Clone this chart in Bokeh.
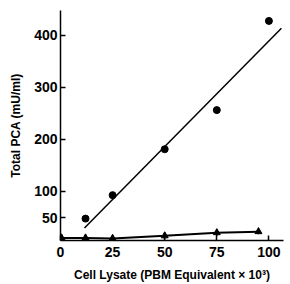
from bokeh.plotting import figure
from bokeh.models import Range1d, FixedTicker, ColumnDataSource, Whisker
from bokeh.embed import file_html
from bokeh.resources import INLINE

# Lysate series (circles)
lys_x = [12, 25, 50, 75, 100]
lys_y = [48, 93, 181, 256, 427]
# Regression line through lysate series
fit_x = [11.5, 106]
fit_y = [30, 413]
# Control series (triangles with error bars)
ctl_x = [0.5, 12, 25, 50, 75, 95]
ctl_y = [11, 11, 10, 15, 21, 23]
ctl_err = [6, 6, 7, 7, 7, 5]

x_ticks = [0, 25, 50, 75, 100]
y_ticks = [50, 100, 200, 300, 400]

FONT = "Liberation Sans"

p = figure(width=286, height=284, output_backend="svg", toolbar_location=None,
           x_range=Range1d(0, 107), y_range=Range1d(6, 447),
           min_border_left=60, min_border_right=3, min_border_top=10, min_border_bottom=44)
p.outline_line_color = None
p.grid.visible = False
p.background_fill_color = "white"

p.line(fit_x, fit_y, line_color="black", line_width=1.5)
p.scatter(lys_x, lys_y, size=7, marker="circle", fill_color="black", line_color="black")

src = ColumnDataSource(dict(x=ctl_x, y=ctl_y,
                            lo=[a - b for a, b in zip(ctl_y, ctl_err)],
                            hi=[a + b for a, b in zip(ctl_y, ctl_err)]))
p.line("x", "y", source=src, line_color="black", line_width=2)
p.add_layout(Whisker(source=src, base="x", lower="lo", upper="hi",
                     line_color="black", line_width=1.5,
                     upper_head=None, lower_head=None))
p.scatter("x", "y", source=src, size=7, marker="triangle", fill_color="black", line_color="black")

for ax in (p.xaxis[0], p.yaxis[0]):
    ax.axis_line_color = "black"
    ax.axis_line_width = 1.5
    ax.major_tick_line_color = "black"
    ax.major_tick_line_width = 1.5
    ax.minor_tick_line_color = None
    ax.major_label_text_font = FONT
    ax.major_label_text_font_style = "bold"
    ax.major_label_text_font_size = "14px"
    ax.major_label_text_color = "black"
    ax.axis_label_text_font = FONT
    ax.axis_label_text_font_style = "bold"
    ax.axis_label_text_font_size = "12px"
    ax.axis_label_text_color = "black"
    ax.major_tick_in = 5
    ax.major_tick_out = 0

p.xaxis.ticker = FixedTicker(ticks=x_ticks)
p.yaxis.ticker = FixedTicker(ticks=y_ticks)
p.xaxis.axis_label = "Cell Lysate (PBM Equivalent \u00d7 10\u00b3)"
p.yaxis.axis_label = "Total PCA (mU/ml)"
p.xaxis.major_label_standoff = 6
p.yaxis.major_label_standoff = 3
p.xaxis.axis_label_standoff = 8
p.yaxis.axis_label_standoff = 8

open("out.html", "w").write(file_html(p, INLINE))
